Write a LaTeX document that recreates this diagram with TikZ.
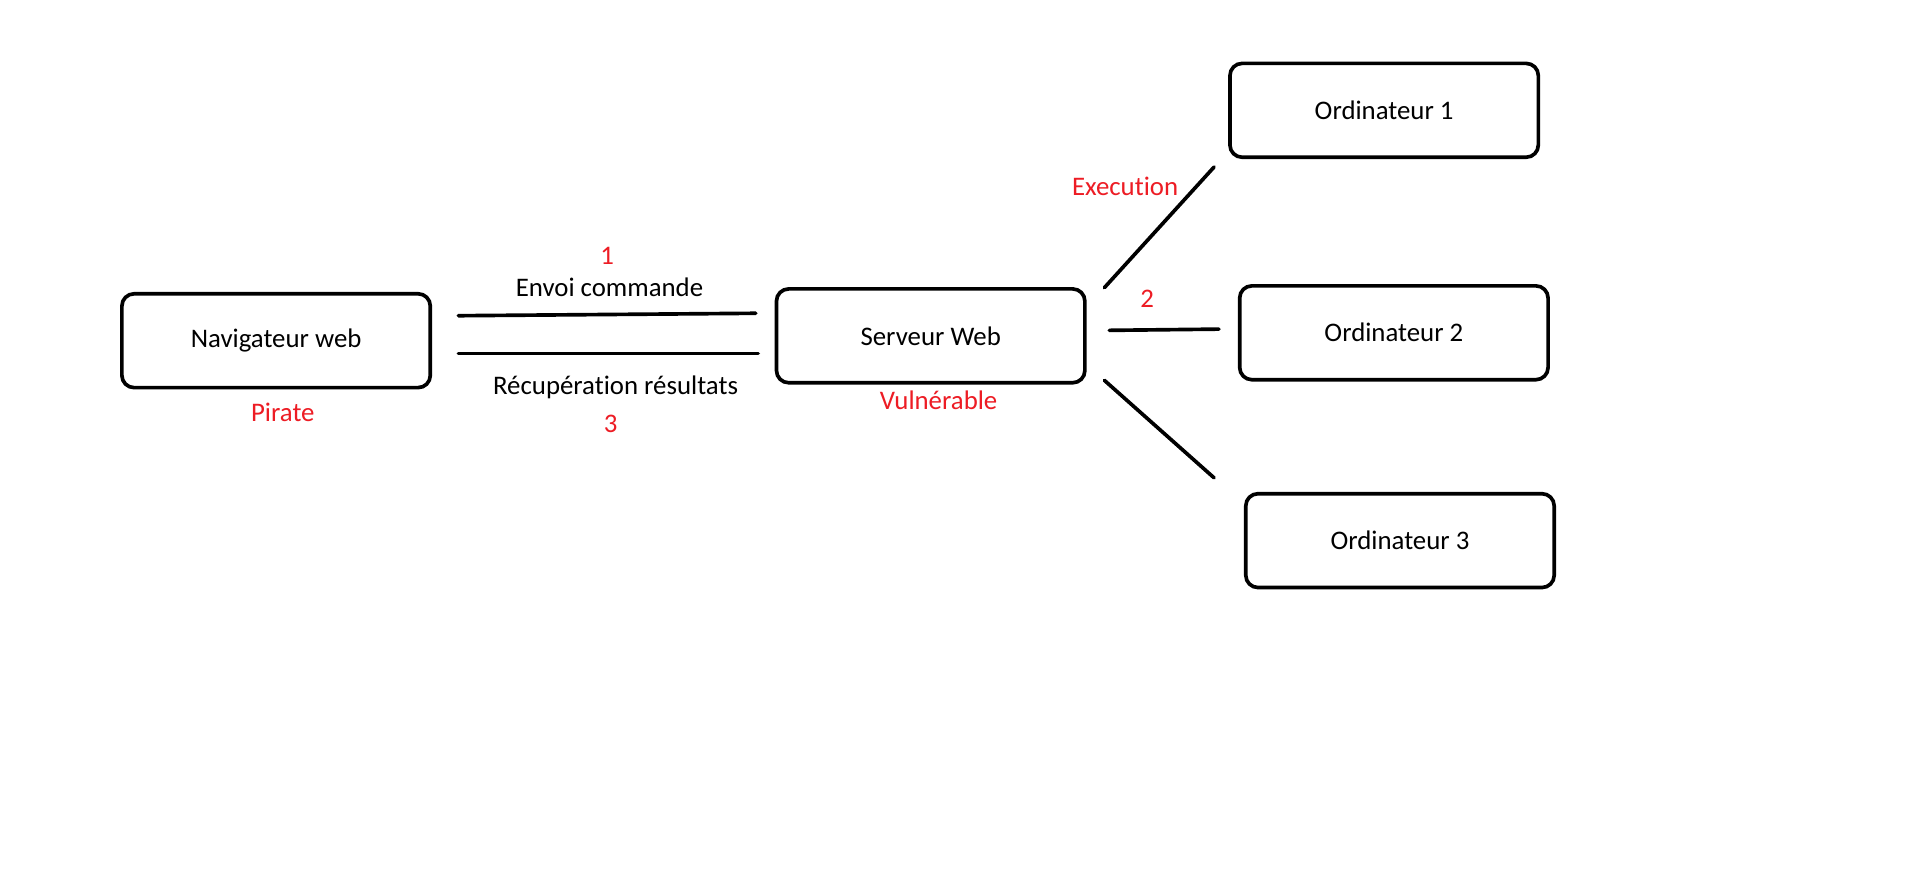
\documentclass[tikz,border=0pt]{standalone}
\usepackage{fontspec}
\setmainfont[Ligatures=NoCommon]{Carlito}
\definecolor{paintred}{RGB}{237,28,36}
\begin{document}
\begin{tikzpicture}[x=0.5pt,y=-0.5pt,
  box/.style={draw=black,line width=1.5pt,rounded corners=5pt,minimum width=126.5pt,minimum height=38.5pt,inner sep=0pt,font=\fontsize{11}{13}\selectfont},
  lbl/.style={inner sep=0pt,font=\fontsize{11}{13}\selectfont},
  rlbl/.style={lbl,text=paintred},
  wire/.style={line width=1.5pt,line cap=round}]
\useasboundingbox[fill=white] (0,0) rectangle (1571,712.9);
\node[box] (nav) at (226.5,279.5) {Navigateur web};
\node[box] (srv) at (763.5,275.5) {Serveur Web};
\node[box] (o1) at (1135.5,90.5) {Ordinateur 1};
\node[box] (o2) at (1143.5,273) {Ordinateur 2};
\node[box] (o3) at (1148.5,443.5) {Ordinateur 3};
\node[rlbl] (pirate) at (232,338) {Pirate};
\node[rlbl] (vuln) at (770,328) {Vulnérable};
\node[rlbl] (one) at (498,210) {1};
\node[lbl] (envoi) at (500,236) {Envoi commande};
\node[lbl] (recup) at (505,318) {Récupération résultats};
\node[rlbl] (three) at (501,348) {3};
\node[rlbl] (exec) at (923,153) {Execution};
\node[rlbl] (two) at (941,245) {2};
\coordinate (a1) at (376,259);
\coordinate (a2) at (620,257);
\coordinate (b1) at (376,290);
\coordinate (b2) at (622,290);
\coordinate (c1) at (906,236);
\coordinate (c2) at (996,137);
\coordinate (d1) at (910,271);
\coordinate (d2) at (1000,270);
\coordinate (e1) at (906,312);
\coordinate (e2) at (996,392);
\draw[wire] (a1) -- (a2);
\draw[wire] (b1) -- (b2);
\draw[wire] (c1) -- (c2);
\draw[wire] (d1) -- (d2);
\draw[wire] (e1) -- (e2);
\end{tikzpicture}
\end{document}
